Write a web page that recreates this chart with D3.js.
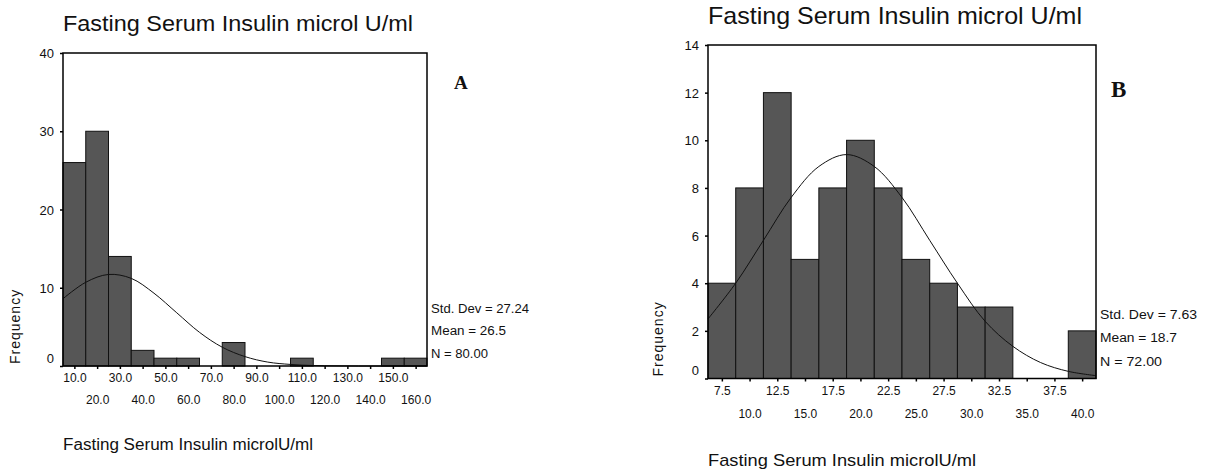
<!DOCTYPE html>
<html>
<head>
<meta charset="utf-8">
<script src="https://cdn.jsdelivr.net/npm/d3@7"></script>
<style>
  body { margin: 0; background: #fff; }
  svg { display: block; font-family: "Liberation Sans", Arial, sans-serif; }
</style>
</head>
<body>
<svg id="chart" width="1205" height="475"></svg>
<script>
// ### Data, panel A ###
var binsA = [10, 20, 30, 40, 50, 60, 70, 80, 90, 100, 110, 120, 130, 140, 150, 160];
var countsA = [26, 30, 14, 2, 1, 1, 0, 3, 0, 0, 1, 0, 0, 0, 1, 1];
var yTicksA = [0, 10, 20, 30, 40];
// normal curve read at bin edges
var curveXA = [5, 15, 25, 35, 45, 55, 65, 75, 85, 95, 105, 115, 125, 135, 145, 155, 165];
var curveYA = [8.6, 10.7, 11.7, 11.2, 9.3, 6.8, 4.3, 2.4, 1.2, 0.5, 0.2, 0.06, 0.02, 0, 0, 0, 0];
var statsA = ["Std. Dev = 27.24", "Mean = 26.5", "N = 80.00"];

// ### Data, panel B ###
var binsB = [7.5, 10, 12.5, 15, 17.5, 20, 22.5, 25, 27.5, 30, 32.5, 35, 37.5, 40];
var countsB = [4, 8, 12, 5, 8, 10, 8, 5, 4, 3, 3, 0, 0, 2];
var yTicksB = [0, 2, 4, 6, 8, 10, 12, 14];
var curveXB = [6.25, 8.75, 11.25, 13.75, 16.25, 18.75, 21.25, 23.75, 26.25, 28.75, 31.25, 33.75, 36.25, 38.75, 41.25];
var curveYB = [2.5, 4.0, 5.8, 7.6, 8.9, 9.4, 8.9, 7.6, 5.8, 4.0, 2.4, 1.35, 0.67, 0.3, 0.12];
var statsB = ["Std. Dev = 7.63", "Mean = 18.7", "N = 72.00"];

var titleText = "Fasting Serum Insulin microl U/ml";
var xTitleText = "Fasting Serum Insulin microlU/ml";

var svg = d3.select('#chart');

function drawPanel(p) {
  var g = svg.append('g');
  var half = p.binWidth / 2;

  var xScale = d3.scaleLinear()
      .domain([p.bins[0] - half, p.bins[p.bins.length - 1] + half])
      .range([p.left, p.right]);
  var yScale = d3.scaleLinear()
      .domain([0, p.yMax])
      .range([p.bottom, p.top]);

  // bars
  g.selectAll('rect.bar')
    .data(p.bins.map((b, i) => ({x: b, n: p.counts[i]})).filter(d => d.n > 0))
    .enter()
    .append('rect')
    .attr('class', 'bar')
    .attr('x', d => xScale(d.x - half))
    .attr('width', d => xScale(d.x + half) - xScale(d.x - half))
    .attr('y', d => yScale(d.n))
    .attr('height', d => yScale(0) - yScale(d.n))
    .attr('fill', '#565656')
    .attr('stroke', '#111')
    .attr('stroke-width', 1);

  // normal curve
  var line = d3.line()
      .x(d => xScale(d[0]))
      .y(d => yScale(d[1]))
      .curve(d3.curveCatmullRom.alpha(0.5));
  g.append('path')
    .datum(p.curveX.map((x, i) => [x, p.curveY[i]]))
    .attr('d', line)
    .attr('fill', 'none')
    .attr('stroke', '#111')
    .attr('stroke-width', 1);

  // frame
  g.append('rect')
    .attr('x', p.left).attr('y', p.top)
    .attr('width', p.right - p.left)
    .attr('height', p.bottom - p.top)
    .attr('fill', 'none')
    .attr('stroke', '#000')
    .attr('stroke-width', 1.5);

  // y axis
  var yAxis = d3.axisLeft(yScale).tickValues(p.yTicks).tickSize(3).tickPadding(6)
      .tickFormat(d3.format('d'));
  var ya = g.append('g')
    .attr('transform', `translate(${p.left},0)`)
    .call(yAxis);
  ya.select('.domain').remove();
  ya.selectAll('text')
    .attr('font-size', 13)
    .attr('font-family', '"Liberation Sans", Arial, sans-serif')
    .attr('fill', '#111')
    .attr('dy', d => d === 0 ? '-0.3em' : '0.35em');
  ya.selectAll('line').attr('stroke-width', 1.5);

  // x axis, labels alternating in two rows
  var xAxis = d3.axisBottom(xScale).tickValues(p.bins).tickSize(3).tickPadding(0)
      .tickFormat(d3.format('.1f'));
  var xa = g.append('g')
    .attr('transform', `translate(0,${p.bottom})`)
    .call(xAxis);
  xa.select('.domain').remove();
  xa.selectAll('line').attr('stroke-width', 1.5);
  xa.selectAll('text')
    .attr('font-size', 12)
    .attr('font-family', '"Liberation Sans", Arial, sans-serif')
    .attr('fill', '#111')
    .attr('dy', null)
    .attr('y', (d, i) => i % 2 === 0 ? p.row1 : p.row2);

  // titles
  g.append('text')
    .attr('x', p.left).attr('y', p.titleY)
    .attr('font-size', p.titleSize)
    .attr('textLength', p.titleLen)
    .attr('lengthAdjust', 'spacingAndGlyphs')
    .attr('fill', '#111')
    .text(titleText);

  g.append('text')
    .attr('x', p.left).attr('y', p.xTitleY)
    .attr('font-size', p.xTitleSize)
    .attr('textLength', p.xTitleLen)
    .attr('lengthAdjust', 'spacingAndGlyphs')
    .attr('fill', '#111')
    .text(xTitleText);

  g.append('text')
    .attr('transform', `translate(${p.freqX},${p.bottom - 2}) rotate(-90)`)
    .attr('font-size', 14)
    .attr('letter-spacing', 1)
    .attr('fill', '#111')
    .text('Frequency');

  // panel letter
  g.append('text')
    .attr('x', p.letterX).attr('y', p.letterY)
    .attr('font-family', '"Liberation Serif", "Times New Roman", serif')
    .attr('font-weight', 'bold')
    .attr('font-size', p.letterSize)
    .attr('fill', '#111')
    .text(p.letter);

  // stats
  g.selectAll('text.stat')
    .data(p.stats)
    .enter()
    .append('text')
    .attr('class', 'stat')
    .attr('x', p.right + 4)
    .attr('y', (d, i) => p.statY[i])
    .attr('dy', '0.35em')
    .attr('font-size', 12)
    .attr('textLength', (d, i) => p.statLen[i])
    .attr('lengthAdjust', 'spacingAndGlyphs')
    .attr('fill', '#111')
    .text(d => d);
}

drawPanel({
  bins: binsA, counts: countsA, binWidth: 10, yTicks: yTicksA, yMax: 40,
  curveX: curveXA, curveY: curveYA, stats: statsA,
  left: 63, right: 427, top: 53, bottom: 366,
  row1: 16, row2: 38,
  titleY: 31, titleSize: 22, titleLen: 350,
  xTitleY: 450, xTitleSize: 16, xTitleLen: 250,
  freqX: 20, letter: 'A', letterX: 454, letterY: 89, letterSize: 19,
  statY: [309, 331, 354], statLen: [98, 75, 57]
});

drawPanel({
  bins: binsB, counts: countsB, binWidth: 2.5, yTicks: yTicksB, yMax: 14,
  curveX: curveXB, curveY: curveYB, stats: statsB,
  left: 708, right: 1096, top: 45, bottom: 378.5,
  row1: 16, row2: 39,
  titleY: 24, titleSize: 24, titleLen: 374,
  xTitleY: 466, xTitleSize: 17, xTitleLen: 268,
  freqX: 663, letter: 'B', letterX: 1111, letterY: 97, letterSize: 23,
  statY: [315, 338, 362], statLen: [97, 77, 62]
});
</script>
</body>
</html>
